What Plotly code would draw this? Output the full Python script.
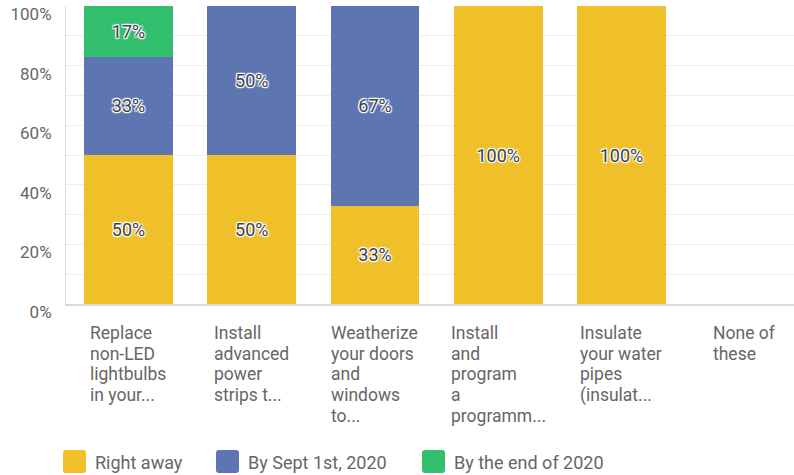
import plotly.graph_objects as go

# Survey answers: when respondents plan to take each energy-saving action
categories = [
    "Replace<br>non-LED<br>lightbulbs<br>in your...",
    "Install<br>advanced<br>power<br>strips t...",
    "Weatherize<br>your doors<br>and<br>windows<br>to...",
    "Install<br>and<br>program<br>a<br>programm...",
    "Insulate<br>your water<br>pipes<br>(insulat...",
    "None of<br>these",
]
right_away = [50, 50, 33, 100, 100, 0]
by_sept_2020 = [33, 50, 67, 0, 0, 0]
by_end_2020 = [17, 0, 0, 0, 0, 0]
series_names = ["Right away", "By Sept 1st, 2020", "By the end of 2020"]
series_colors = ["#EFC02A", "#5D76B2", "#33C06E"]
y_ticks = [0, 20, 40, 60, 80, 100]

W, H = 794, 475
ML, MR, MT, MB = 66, 0, 6, 171
PW, PH = W - ML - MR, H - MT - MB
FONT = "Roboto"


def px(x):
    """Pixel x -> paper x."""
    return (x - ML) / PW


def py(y):
    """Pixel y (from top) -> paper y."""
    return (H - MB - y) / PH


halo = ("1px 1px 1px #fff, -1px -1px 1px #fff, 1px -1px 1px #fff, "
        "-1px 1px 1px #fff, 0 1px 1px #fff, 0 -1px 1px #fff")

fig = go.Figure()
for name, vals, color in zip(series_names, [right_away, by_sept_2020, by_end_2020], series_colors):
    fig.add_trace(go.Bar(
        x=categories,
        y=vals,
        name=name,
        marker=dict(color=color, line=dict(width=0)),
        width=0.72,
        text=[f"{v}%" if v else "" for v in vals],
        textposition="inside",
        insidetextanchor="middle",
        textangle=0,
        constraintext="none",
        textfont=dict(family=FONT, size=18, color="#3b4250", shadow=halo),
        hoverinfo="skip",
        showlegend=False,
    ))

annotations = []
# Category labels: a left-aligned text block centred under each bar.
# Base font sets the line pitch, inner spans set the glyph size.
for i, label in enumerate(categories):
    lines = [f'<span style="font-size:17.5px">{ln}</span>' for ln in label.split("<br>")]
    annotations.append(dict(
        x=i, xref="x", xanchor="center",
        y=py(321), yref="paper", yanchor="top",
        text="<br>".join(lines), showarrow=False, align="left",
        font=dict(family=FONT, size=15.9, color="#666666"),
    ))

# Legend drawn as swatches + text
shapes = []
legend_x = [63, 216, 422]
sw, y0, y1, r = 23, 450, 473, 3
for name, color, lx in zip(series_names, series_colors, legend_x):
    x0, x1 = lx, lx + sw
    path = (f"M {px(x0 + r)} {py(y0)} L {px(x1 - r)} {py(y0)} "
            f"Q {px(x1)} {py(y0)} {px(x1)} {py(y0 + r)} L {px(x1)} {py(y1 - r)} "
            f"Q {px(x1)} {py(y1)} {px(x1 - r)} {py(y1)} L {px(x0 + r)} {py(y1)} "
            f"Q {px(x0)} {py(y1)} {px(x0)} {py(y1 - r)} L {px(x0)} {py(y0 + r)} "
            f"Q {px(x0)} {py(y0)} {px(x0 + r)} {py(y0)} Z")
    shapes.append(dict(type="path", xref="paper", yref="paper", path=path,
                       fillcolor=color, line=dict(width=0), layer="above"))
    annotations.append(dict(
        x=px(x1 + 7), xref="paper", xanchor="left",
        y=py(462), yref="paper", yanchor="middle",
        text=name, showarrow=False,
        font=dict(family=FONT, size=18, color="#666666"),
    ))

fig.update_layout(
    width=W, height=H,
    margin=dict(l=ML, r=MR, t=MT, b=MB, pad=0),
    barmode="stack",
    plot_bgcolor="white", paper_bgcolor="white",
    showlegend=False,
    annotations=annotations,
    shapes=shapes,
    xaxis=dict(
        range=[-0.507, 5.40],
        showticklabels=False, ticks="",
        showgrid=False, zeroline=False,
        showline=True, linecolor="#d9d9d9", linewidth=2,
        fixedrange=True,
    ),
    yaxis=dict(
        range=[0, 100],
        tickvals=y_ticks,
        ticktext=[f"{v}%" for v in y_ticks],
        tickfont=dict(family=FONT, size=17, color="#666666"),
        ticklabelshift=8,
        ticklabelstandoff=10,
        showgrid=True, gridcolor="#eeeeee", gridwidth=1,
        minor=dict(dtick=10, showgrid=True, gridcolor="#eeeeee", gridwidth=1),
        zeroline=False,
        showline=True, linecolor="#dddddd", linewidth=1,
        fixedrange=True,
    ),
)

fig.write_html("out.html", config={"displayModeBar": False})
